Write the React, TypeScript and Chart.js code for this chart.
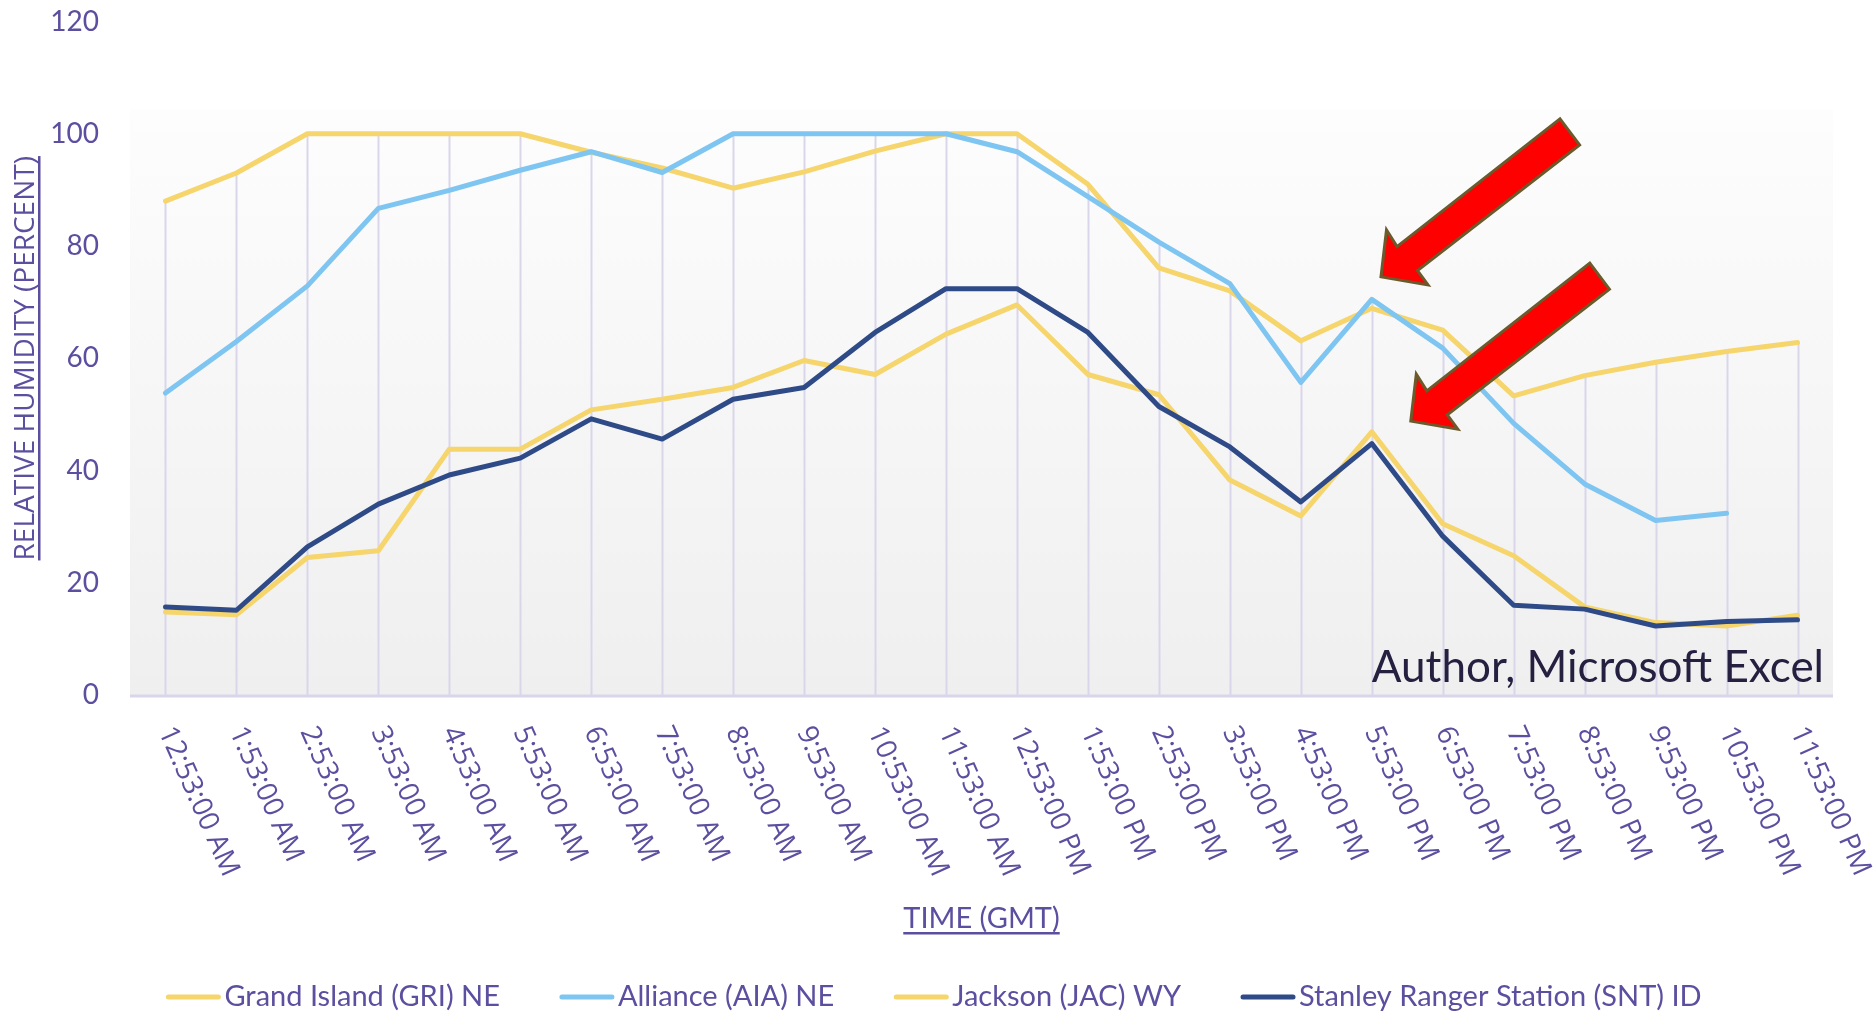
import React, { useEffect, useRef } from "react";
import { Chart, registerables } from "chart.js";

Chart.register(...registerables);

const categories = [
  "12:53:00 AM", "1:53:00 AM", "2:53:00 AM", "3:53:00 AM", "4:53:00 AM", "5:53:00 AM",
  "6:53:00 AM", "7:53:00 AM", "8:53:00 AM", "9:53:00 AM", "10:53:00 AM", "11:53:00 AM",
  "12:53:00 PM", "1:53:00 PM", "2:53:00 PM", "3:53:00 PM", "4:53:00 PM", "5:53:00 PM",
  "6:53:00 PM", "7:53:00 PM", "8:53:00 PM", "9:53:00 PM", "10:53:00 PM", "11:53:00 PM",
];

const grandIsland = [88, 93, 100, 100, 100, 100, 96.7, 93.9, 90.3, 93.2, 96.9, 100, 100, 91, 76.1, 72, 63.1, 68.9, 65, 53.3, 56.9, 59.3, 61.2, 62.8];
const alliance = [53.8, 63, 72.9, 86.7, 89.9, 93.5, 96.8, 93.1, 100, 100, 100, 100, 96.8, 88.8, 80.7, 73.3, 55.7, 70.5, 61.8, 48.4, 37.6, 31.1, 32.4, null];
const jackson = [14.8, 14.3, 24.5, 25.7, 43.8, 43.8, 50.8, 52.7, 54.8, 59.6, 57.1, 64.3, 69.5, 57.1, 53.5, 38.3, 31.9, 46.9, 30.5, 24.8, 15.7, 12.9, 12.3, 14.2];
const stanley = [15.7, 15.1, 26.4, 34, 39.2, 42.2, 49.2, 45.6, 52.7, 54.8, 64.6, 72.4, 72.4, 64.6, 51.4, 44.2, 34.4, 44.8, 28.3, 16, 15.3, 12.3, 13.1, 13.4];

const seriesNames = ["Grand Island (GRI) NE", "Alliance (AIA) NE", "Jackson (JAC) WY", "Stanley Ranger Station (SNT) ID"];
const seriesColors = ["#f5d56c", "#7ec5f1", "#f5d56c", "#2f4b87"];
const allSeries = [grandIsland, alliance, jackson, stanley];

const yMin = 0;
const yMax = 120;
const yStep = 20;

const xTitle = "TIME (GMT)";
const yTitle = "RELATIVE HUMIDITY (PERCENT)";
const sourceNote = "Author, Microsoft Excel";

// arrow annotations: tip position in data space (category index, value)
const arrowTips = [
  { x: 17.13, y: 74.5 },
  { x: 17.55, y: 48.8 },
];

const PURPLE = "#5b4f9f";
const FONT_LATO = "Lato";
const FONT_OPEN = "'Open Sans'";

const customPlugin = {
  id: "customDraw",
  beforeDraw(chart: any) {
    const { ctx, chartArea: ca } = chart;
    ctx.save();
    ctx.fillStyle = "#ffffff";
    ctx.fillRect(0, 0, chart.width, chart.height);
    const top = ca.top + 0.131 * (ca.bottom - ca.top);
    const g = ctx.createLinearGradient(0, top, 0, ca.bottom);
    g.addColorStop(0, "#fdfdfd");
    g.addColorStop(1, "#efefef");
    ctx.fillStyle = g;
    ctx.fillRect(ca.left, top, ca.right - ca.left, ca.bottom - top);
    ctx.restore();
  },
  beforeDatasetsDraw(chart: any) {
    const { ctx, chartArea: ca, scales } = chart;
    const xs = scales.x;
    const ys = scales.y;
    ctx.save();
    ctx.strokeStyle = "#d9d6eb";
    ctx.lineWidth = 2;
    categories.forEach((_, i) => {
      const vals = allSeries.map((s) => s[i]).filter((v) => v !== null && v !== undefined) as number[];
      if (!vals.length) return;
      const m = Math.max(...vals);
      const px = Math.round(xs.getPixelForValue(i)) + 0.5;
      ctx.beginPath();
      ctx.moveTo(px, ys.getPixelForValue(m));
      ctx.lineTo(px, ys.getPixelForValue(0));
      ctx.stroke();
    });
    // category axis line
    ctx.strokeStyle = "#d9d6ec";
    ctx.lineWidth = 3;
    ctx.beginPath();
    const by = ys.getPixelForValue(0) + 1;
    ctx.moveTo(ca.left, by);
    ctx.lineTo(ca.right, by);
    ctx.stroke();
    ctx.restore();
  },
  afterDraw(chart: any) {
    const { ctx, chartArea: ca, scales } = chart;
    const xs = scales.x;
    const ys = scales.y;
    ctx.save();

    // rotated category labels
    ctx.font = `28px ${FONT_OPEN}`;
    ctx.fillStyle = PURPLE;
    ctx.textAlign = "left";
    ctx.textBaseline = "middle";
    const ang = (66 * Math.PI) / 180;
    categories.forEach((lab, i) => {
      ctx.save();
      ctx.translate(xs.getPixelForValue(i), ca.bottom + 33);
      ctx.rotate(ang);
      ctx.fillText(lab, 0, 0);
      ctx.restore();
    });

    // x axis title (underlined)
    ctx.font = `29px ${FONT_LATO}`;
    ctx.textAlign = "center";
    ctx.textBaseline = "alphabetic";
    const cx = (ca.left + ca.right) / 2;
    const tyX = 928;
    ctx.fillText(xTitle, cx, tyX);
    const wX = ctx.measureText(xTitle).width;
    ctx.fillRect(cx - wX / 2, tyX + 4, wX, 2.5);

    // y axis title (rotated, underlined)
    ctx.save();
    ctx.font = `28px ${FONT_OPEN}`;
    ctx.translate(26, (ca.top + ca.bottom) / 2);
    ctx.rotate(-Math.PI / 2);
    ctx.textAlign = "center";
    ctx.textBaseline = "middle";
    ctx.fillText(yTitle, 0, 0);
    const wY = ctx.measureText(yTitle).width;
    ctx.fillRect(-wY / 2, 12, wY, 2.5);
    ctx.restore();

    // source note
    ctx.font = `44px ${FONT_LATO}`;
    ctx.fillStyle = "#262040";
    ctx.textAlign = "right";
    ctx.textBaseline = "alphabetic";
    ctx.fillText(sourceNote, ca.right - 9, ca.bottom - 13);

    // legend
    ctx.font = `29px ${FONT_LATO}`;
    const sampleW = 54;
    const gap = 4;
    const itemGap = 60;
    const widths = seriesNames.map((n) => sampleW + gap + ctx.measureText(n).width);
    const total = widths.reduce((a, b) => a + b, 0) + itemGap * (seriesNames.length - 1);
    let lx = chart.width / 2 - 4 - total / 2;
    const ly = 997;
    seriesNames.forEach((n, i) => {
      ctx.strokeStyle = seriesColors[i];
      ctx.lineWidth = 5;
      ctx.lineCap = "round";
      ctx.beginPath();
      ctx.moveTo(lx + 2, ly);
      ctx.lineTo(lx + sampleW - 2, ly);
      ctx.stroke();
      ctx.fillStyle = PURPLE;
      ctx.textAlign = "left";
      ctx.textBaseline = "middle";
      ctx.fillText(n, lx + sampleW + gap, ly);
      lx += widths[i] + itemGap;
    });

    // arrows
    const shape = [
      [179, -158],
      [198.6, -132],
      [36.5, -6.3],
      [47, 8],
      [0, 0],
      [5.5, -47],
      [16, -30.3],
    ];
    arrowTips.forEach((t) => {
      const tx = xs.getPixelForValue(t.x);
      const ty = ys.getPixelForValue(t.y);
      ctx.beginPath();
      shape.forEach(([dx, dy], k) => {
        if (k === 0) ctx.moveTo(tx + dx, ty + dy);
        else ctx.lineTo(tx + dx, ty + dy);
      });
      ctx.closePath();
      ctx.fillStyle = "#ff0000";
      ctx.fill();
      ctx.strokeStyle = "#6b5a2c";
      ctx.lineWidth = 3;
      ctx.lineJoin = "miter";
      ctx.stroke();
    });

    ctx.restore();
  },
};

export default function App() {
  const ref = useRef<HTMLCanvasElement | null>(null);

  useEffect(() => {
    if (!ref.current) return;
    const orders = [3, 2, 1, 0];
    const chart = new Chart(ref.current, {
      type: "line",
      data: {
        labels: categories,
        datasets: allSeries.map((s, i) => ({
          label: seriesNames[i],
          data: s,
          borderColor: seriesColors[i],
          backgroundColor: seriesColors[i],
          borderWidth: 5,
          pointRadius: 0,
          pointHoverRadius: 0,
          tension: 0,
          fill: false,
          spanGaps: false,
          borderJoinStyle: "round" as const,
          borderCapStyle: "round" as const,
          order: orders[i],
        })),
      },
      options: {
        animation: false,
        responsive: false,
        devicePixelRatio: 1,
        events: [],
        layout: { padding: { top: 21.5, right: 43, bottom: 0, left: 0 } },
        plugins: {
          legend: { display: false },
          tooltip: { enabled: false },
          title: { display: false },
        },
        scales: {
          x: {
            type: "category",
            offset: true,
            grid: { display: false },
            border: { display: false },
            ticks: { display: false },
            afterFit: (s: any) => {
              s.height = 318;
              s.paddingLeft = 0;
              s.paddingRight = 0;
            },
          },
          y: {
            min: yMin,
            max: yMax,
            grid: { display: false, drawTicks: false },
            border: { display: false },
            ticks: {
              stepSize: yStep,
              color: PURPLE,
              padding: 31,
              font: { family: FONT_LATO, size: 28 },
            },
            afterFit: (s: any) => {
              s.width = 130;
              s.paddingTop = 0;
              s.paddingBottom = 0;
            },
          },
        },
      },
      plugins: [customPlugin],
    });
    return () => chart.destroy();
  }, []);

  return (
    <div style={{ position: "absolute", left: 0, top: 0, width: 1876, height: 1013, background: "#fff" }}>
      <canvas ref={ref} width={1876} height={1013} style={{ width: 1876, height: 1013, display: "block" }} />
    </div>
  );
}
